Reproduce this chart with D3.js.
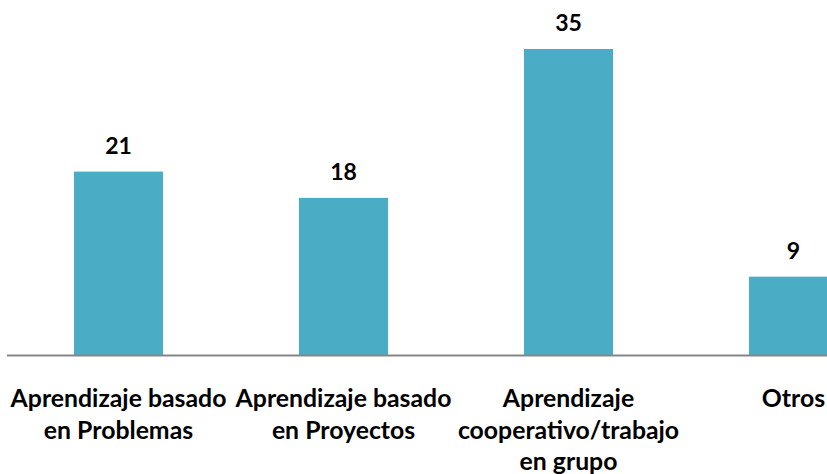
<!DOCTYPE html>
<html><head><meta charset="utf-8">
<script src="https://cdn.jsdelivr.net/npm/d3@7"></script>
<style>body{margin:0;background:#fff;}svg{display:block;}</style>
</head><body>
<script>
const categories = ["Aprendizaje basado en Problemas", "Aprendizaje basado en Proyectos", "Aprendizaje cooperativo/trabajo en grupo", "Otros"];
const categoryLines = [["Aprendizaje basado","en Problemas"],["Aprendizaje basado","en Proyectos"],["Aprendizaje","cooperativo/trabajo","en grupo"],["Otros"]];
const values = [21, 18, 35, 9];

const W = 827, H = 474;
const svg = d3.select("body").append("svg").attr("width", W).attr("height", H);
const baseY = 355.5;
const x = d3.scaleBand().domain(categories).range([6, 906]).paddingInner(0.604).paddingOuter(0.302);
const y = d3.scaleLinear().domain([0, 35]).range([baseY, 49]);

svg.selectAll("rect.bar").data(values).join("rect")
  .attr("class","bar")
  .attr("x", (d,i) => x(categories[i]))
  .attr("width", x.bandwidth())
  .attr("y", d => y(d))
  .attr("height", d => baseY - y(d))
  .attr("fill", "#4BACC6");

svg.append("line").attr("x1", 7).attr("x2", W).attr("y1", baseY).attr("y2", baseY)
  .attr("stroke", "#868686").attr("stroke-width", 2);

svg.selectAll("text.val").data(values).join("text")
  .attr("class","val")
  .attr("x", (d,i) => x(categories[i]) + x.bandwidth()/2)
  .attr("y", d => y(d) - 18)
  .attr("text-anchor","middle")
  .attr("font-family","Lato, 'Open Sans', sans-serif")
  .attr("font-weight","bold")
  .attr("font-size", 23)
  .attr("fill","#000")
  .text(d => d);

const labels = svg.selectAll("text.cat").data(categories).join("text")
  .attr("class","cat")
  .attr("text-anchor","middle")
  .attr("font-family","Lato, 'Open Sans', sans-serif")
  .attr("font-weight","bold")
  .attr("font-size", 24.8)
  .attr("fill","#000");
labels.each(function(c, i){
  const t = d3.select(this);
  const cx = x(c) + x.bandwidth()/2;
  categoryLines[i].forEach((ln, j) => {
    t.append("tspan").attr("x", cx).attr("y", 407 + j*31.5).text(ln);
  });
});
</script>
</body></html>
